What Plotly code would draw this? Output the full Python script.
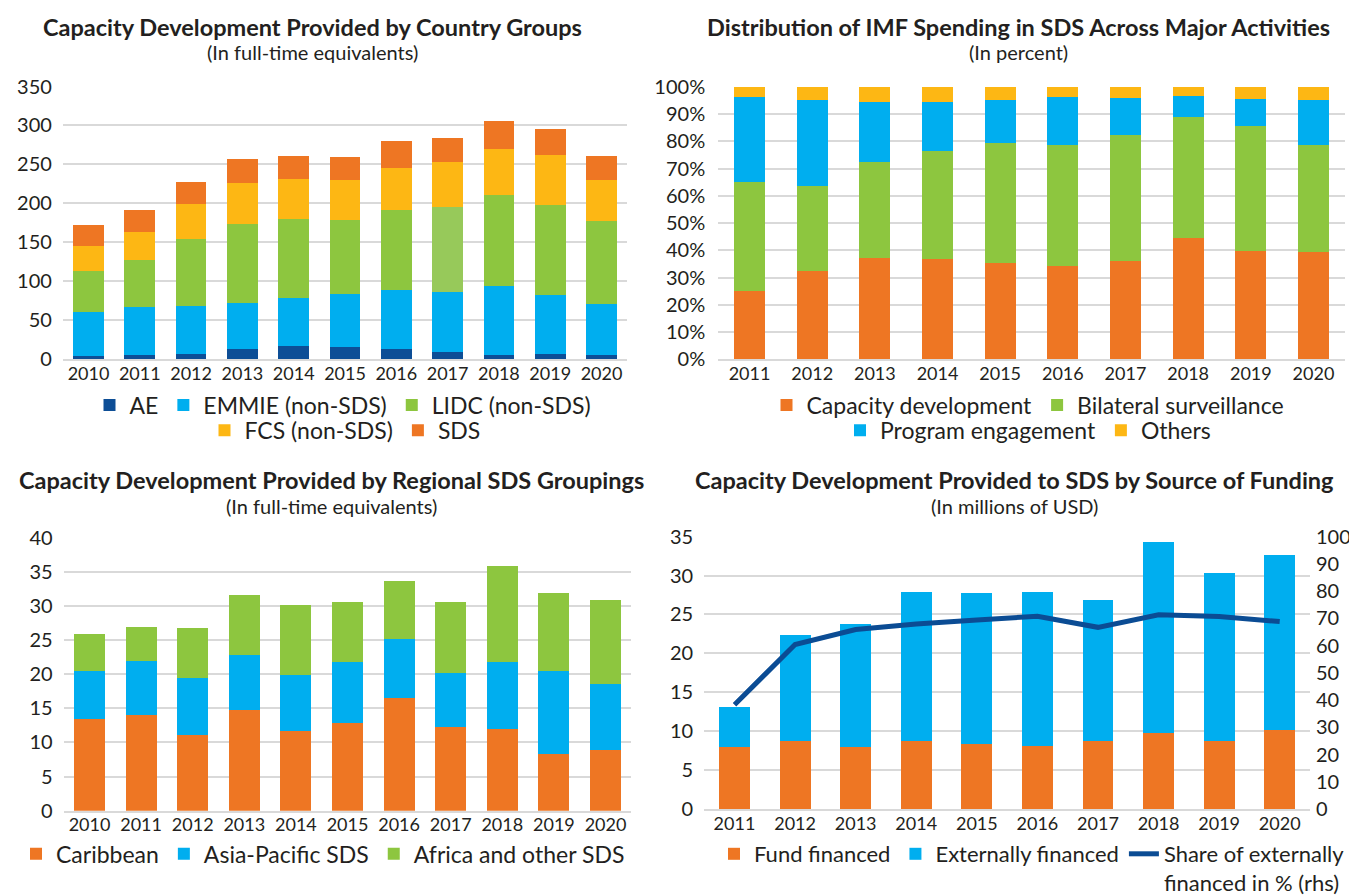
import plotly.graph_objects as go

# ---------------- data ----------------
years_cg = ["2010", "2011", "2012", "2013", "2014", "2015", "2016", "2017", "2018", "2019", "2020"]
ae = [4.2, 5.4, 6.7, 12.9, 16.7, 15.5, 12.9, 9.2, 5.4, 6.7, 5.4]
emmie = [56.4, 61.4, 61.4, 58.9, 61.4, 68.9, 76.5, 77.7, 89.0, 75.2, 65.2]
lidc = [52.6, 60.2, 86.5, 101.6, 101.5, 94.0, 101.5, 109.0, 116.5, 116.5, 106.5]
fcs = [32.6, 36.3, 45.1, 52.6, 51.4, 51.3, 55.1, 57.7, 58.9, 63.9, 52.6]
sds = [26.3, 27.6, 27.5, 31.3, 30.0, 30.1, 33.9, 30.0, 36.4, 32.6, 31.3]

years_act = ["2011", "2012", "2013", "2014", "2015", "2016", "2017", "2018", "2019", "2020"]
cap_dev = [25.2, 32.5, 37.2, 36.8, 35.4, 34.3, 36.1, 44.7, 39.7, 39.4]
bilateral = [40.0, 31.1, 35.2, 39.5, 44.1, 44.5, 46.3, 44.2, 45.9, 39.4]
program = [31.1, 31.7, 22.2, 18.0, 15.8, 17.6, 13.7, 7.9, 10.1, 16.5]
others = [3.7, 4.7, 5.4, 5.7, 4.7, 3.6, 3.9, 3.2, 4.3, 4.7]

years_reg = ["2010", "2011", "2012", "2013", "2014", "2015", "2016", "2017", "2018", "2019", "2020"]
caribbean = [13.4, 14.0, 11.1, 14.8, 11.7, 12.9, 16.5, 12.2, 12.0, 8.3, 8.9]
asia_pacific = [7.1, 7.9, 8.4, 8.0, 8.2, 8.9, 8.7, 8.0, 9.8, 12.2, 9.7]
africa_other = [5.4, 5.0, 7.3, 8.8, 10.3, 8.7, 8.5, 10.3, 14.0, 11.4, 12.3]

years_fund = ["2011", "2012", "2013", "2014", "2015", "2016", "2017", "2018", "2019", "2020"]
fund_fin = [8.0, 8.75, 8.0, 8.8, 8.3, 8.1, 8.8, 9.75, 8.75, 10.1]
ext_fin = [5.1, 13.65, 15.8, 19.1, 19.4, 19.8, 18.0, 24.55, 21.55, 22.6]
share_ext = [38.3, 60.4, 65.9, 67.9, 69.4, 70.8, 66.7, 71.3, 70.7, 68.8]

# ---------------- style ----------------
W, H = 1357, 896
FONT = "Lato"
TXT = "#231F20"
GRID = "#D9D9D9"
C_AE = "#0D4E96"
C_EM = "#00AEEF"
C_LI = "#8DC63F"
C_LI_HI = "#97C95A"
C_FC = "#FDB714"
C_SD = "#EE7623"
C_LINE = "#0B4C94"


def xd(left, right):
    return [left / W, right / W]


def yd(top, bottom):
    return [1 - bottom / H, 1 - top / H]


fig = go.Figure()

# ---- panel 1: country groups ----
lidc_colors = [C_LI_HI if y == "2017" else C_LI for y in years_cg]
for name, vals, col in [("AE", ae, C_AE), ("EMMIE (non-SDS)", emmie, C_EM),
                        ("LIDC (non-SDS)", lidc, lidc_colors)]:
    fig.add_trace(go.Bar(x=years_cg, y=vals, name=name, marker=dict(color=col, line=dict(width=0)),
                         width=0.6, xaxis="x", yaxis="y", legend="legend"))
for name, vals, col in [("FCS (non-SDS)", fcs, C_FC), ("SDS", sds, C_SD)]:
    fig.add_trace(go.Bar(x=years_cg, y=vals, name=name, marker=dict(color=col, line=dict(width=0)),
                         width=0.6, xaxis="x", yaxis="y", legend="legend2"))

# ---- panel 2: activities ----
for name, vals, col, lg in [("Capacity development", cap_dev, C_SD, "legend3"),
                            ("Bilateral surveillance", bilateral, C_LI, "legend3"),
                            ("Program engagement", program, C_EM, "legend4"),
                            ("Others", others, C_FC, "legend4")]:
    fig.add_trace(go.Bar(x=years_act, y=vals, name=name, marker=dict(color=col, line=dict(width=0)),
                         width=0.495, xaxis="x2", yaxis="y2", legend=lg))

# ---- panel 3: regional ----
for name, vals, col in [("Caribbean", caribbean, C_SD), ("Asia-Pacific SDS", asia_pacific, C_EM),
                        ("Africa and other SDS", africa_other, C_LI)]:
    fig.add_trace(go.Bar(x=years_reg, y=vals, name=name, marker=dict(color=col, line=dict(width=0)),
                         width=0.6, xaxis="x3", yaxis="y3", legend="legend5"))

# ---- panel 4: funding ----
for name, vals, col in [("Fund financed", fund_fin, C_SD), ("Externally financed", ext_fin, C_EM)]:
    fig.add_trace(go.Bar(x=years_fund, y=vals, name=name, marker=dict(color=col, line=dict(width=0)),
                         width=0.51, xaxis="x4", yaxis="y4", legend="legend6"))
fig.add_trace(go.Scatter(x=years_fund, y=share_ext, name="Share of externally<br>financed in % (rhs)",
                         mode="lines", line=dict(color=C_LINE, width=5),
                         xaxis="x4", yaxis="y5", legend="legend6"))

# ---------------- axes ----------------
def xaxis(dom, anchor, n):
    return dict(domain=dom, anchor=anchor, type="category", range=[-0.5, n - 0.5],
                showgrid=False, showline=True, linecolor=GRID, linewidth=2, ticks="",
                ticklabelstandoff=-3,
                tickfont=dict(family=FONT, size=18, color=TXT), automargin=False, fixedrange=True)


def yaxis(dom, anchor, rng, dtick, suffix="", size=20, standoff=10):
    return dict(domain=dom, anchor=anchor, range=rng, dtick=dtick, showgrid=True, gridcolor=GRID,
                gridwidth=1.6, zeroline=False, showline=False, ticks="", ticksuffix=suffix,
                ticklabelstandoff=standoff,
                tickfont=dict(family=FONT, size=size, color=TXT), automargin=False, fixedrange=True)


layout = dict(
    width=W, height=H, margin=dict(l=0, r=0, t=0, b=0),
    paper_bgcolor="white", plot_bgcolor="white", barmode="stack", showlegend=True,
    font=dict(family=FONT, color=TXT),
    xaxis=xaxis(xd(54.85, 619.15), "y", 11),
    yaxis=yaxis(yd(80.3, 359.3), "x", [0, 350], 50),
    xaxis2=xaxis(xd(710.2, 1336.8), "y2", 10),
    yaxis2=yaxis(yd(80.7, 359.3), "x2", [0, 100], 10, suffix="%", standoff=12),
    xaxis3=xaxis(xd(55.7, 623.3), "y3", 11),
    yaxis3=yaxis(yd(541.7, 821.0), "x3", [0, 40], 5),
    xaxis4=xaxis(xd(696.2, 1302.0), "y4", 10),
    yaxis4=yaxis(yd(540.7, 819.3), "x4", [0, 35], 5),
    yaxis5=dict(overlaying="y4", anchor="x4", side="right", range=[0, 100], dtick=10,
                showgrid=False, zeroline=False, showline=False, ticks="", ticklabelstandoff=5,
                tickfont=dict(family=FONT, size=20, color=TXT), automargin=False, fixedrange=True),
)


def legend(xc, ypix, size=23, yanchor="middle"):
    return dict(x=xc / W, y=1 - ypix / H, xanchor="center", yanchor=yanchor, orientation="h",
                traceorder="normal", bgcolor="rgba(0,0,0,0)", valign="top",
                font=dict(family=FONT, size=size, color=TXT), itemclick=False, itemdoubleclick=False)


layout["legend"] = legend(335, 406)
layout["legend2"] = legend(337, 432)
layout["legend3"] = legend(1020, 406)
layout["legend4"] = legend(1020, 432)
layout["legend5"] = legend(315, 865)
layout["legend6"] = legend(1024, 844, size=22, yanchor="top")

fig.update_layout(**layout)

# ---------------- titles ----------------
titles = [
    ("Capacity Development Provided by Country Groups", "(In full-time equivalents)", 304, 19),
    ("Distribution of IMF Spending in SDS Across Major Activities", "(In percent)", 1010, 19),
    ("Capacity Development Provided by Regional SDS Groupings", "(In full-time equivalents)", 323, 483),
    ("Capacity Development Provided to SDS by Source of Funding", "(In millions of USD)", 1007, 483),
]
for title, sub, xc, yt in titles:
    fig.add_annotation(text="<b>" + title + "</b>", x=xc / W, y=1 - yt / H, xref="paper", yref="paper",
                       xanchor="center", yanchor="middle", showarrow=False,
                       font=dict(family=FONT, size=23.5, color=TXT))
    fig.add_annotation(text=sub, x=xc / W, y=1 - (yt + 26) / H, xref="paper", yref="paper",
                       xanchor="center", yanchor="middle", showarrow=False,
                       font=dict(family=FONT, size=20, color=TXT))

fig.write_html("out.html")
